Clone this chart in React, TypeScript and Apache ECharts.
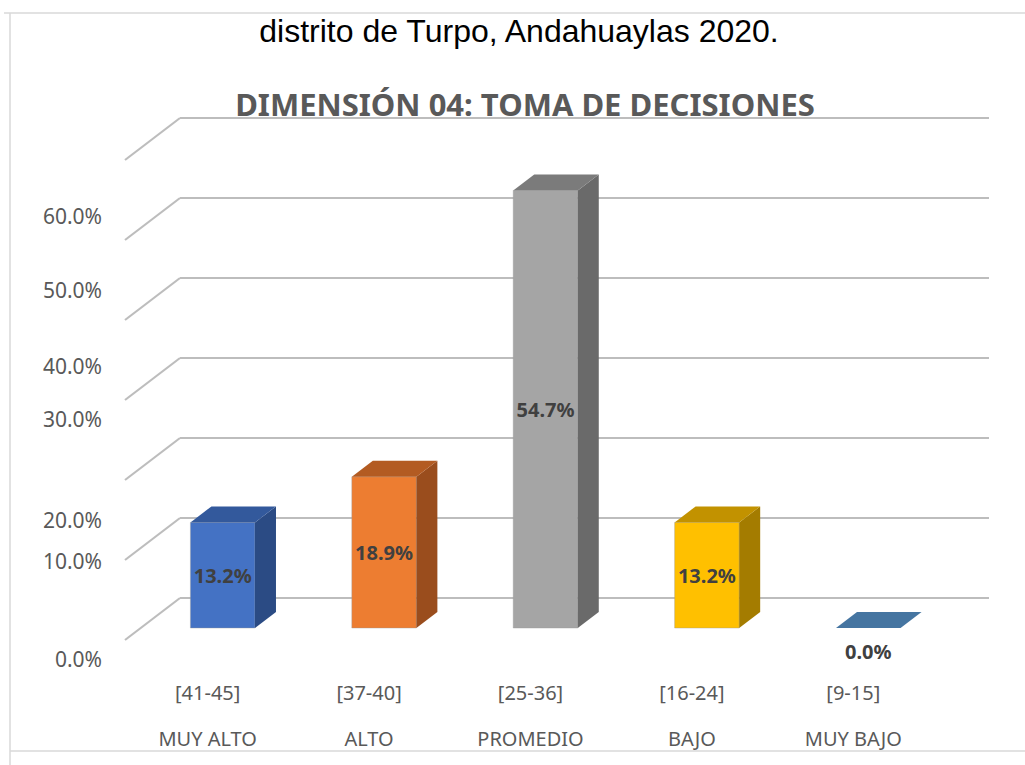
import React, { useEffect, useRef } from "react";
import * as echarts from "echarts";

const categories = ["[41-45]", "[37-40]", "[25-36]", "[16-24]", "[9-15]"];
const levels = ["MUY ALTO", "ALTO", "PROMEDIO", "BAJO", "MUY BAJO"];
const percentages = [13.2, 18.9, 54.7, 13.2, 0.0];
const gridValues = [0, 10, 20, 30, 40, 50, 60];
const yTickLabels = ["0.0%", "10.0%", "20.0%", "30.0%", "40.0%", "50.0%", "60.0%"];
const chartTitle = "DIMENSIÓN 04: TOMA DE DECISIONES";
const chartSubtitle = "distrito de Turpo, Andahuaylas 2020.";

const palette = [
  { front: "#4472C4", side: "#2B4B84", top: "#33599C" },
  { front: "#ED7D31", side: "#9A4D1D", top: "#B35B22" },
  { front: "#A5A5A5", side: "#6A6A6A", top: "#7B7B7B" },
  { front: "#FFC000", side: "#A47C00", top: "#C29200" },
  { front: "#4A78A6", side: "#2F557C", top: "#4575A1" },
];

// layout (pixels) of the misplaced Excel tick labels
const yLabelCenters = [659, 561, 520, 419, 366, 290, 216];

const DX = 21;
const DY = 16;
const FONT = "'Noto Sans', 'Open Sans', sans-serif";

export default function App() {
  const ref = useRef<HTMLDivElement>(null);

  useEffect(() => {
    if (!ref.current) return;
    const chart = echarts.init(ref.current, undefined, { renderer: "svg" });

    const gridSeries = {
      type: "custom",
      silent: true,
      z: 1,
      data: gridValues.map((v) => [0, v]),
      renderItem: (params: any, api: any) => {
        const cs = params.coordSys;
        const p = api.coord([0, api.value(1)]);
        const y = p[1];
        const x0 = cs.x - 17;
        const x1 = cs.x + 38;
        const x2 = cs.x + cs.width + 40;
        const style = { stroke: "#BDBDBD", lineWidth: 2.2, fill: "none" };
        return {
          type: "group",
          children: [
            { type: "line", shape: { x1: x0, y1: y + 12, x2: x1, y2: y - 30 }, style },
            { type: "line", shape: { x1: x1, y1: y - 30, x2: x2, y2: y - 30 }, style },
          ],
        };
      },
    };

    const barSeries = {
      type: "custom",
      z: 5,
      data: percentages.map((v, i) => [i, v]),
      renderItem: (params: any, api: any) => {
        const i = api.value(0);
        const v = api.value(1);
        const base = api.coord([i, 0]);
        const topP = api.coord([i, v]);
        const w = api.size([1, 0])[0] * 0.4;
        const xl = base[0] - w / 2;
        const xr = base[0] + w / 2;
        const yb = base[1];
        const yt = topP[1];
        const c = palette[i];
        const children: any[] = [];
        if (yb - yt > 0.5) {
          children.push({
            type: "rect",
            shape: { x: xl, y: yt, width: w, height: yb - yt },
            style: { fill: c.front, stroke: "#9a9a9a", lineWidth: 0.4 },
          });
          children.push({
            type: "polygon",
            shape: { points: [[xr, yt], [xr + DX, yt - DY], [xr + DX, yb - DY], [xr, yb]] },
            style: { fill: c.side },
          });
        }
        children.push({
          type: "polygon",
          shape: { points: [[xl, yt], [xl + DX, yt - DY], [xr + DX, yt - DY], [xr, yt]] },
          style: { fill: c.top },
        });
        const labelY = yb - yt > 0.5 ? (yt + yb) / 2 : yb + 23;
        children.push({
          type: "text",
          style: {
            text: v.toFixed(1) + "%",
            x: base[0],
            y: labelY,
            align: "center",
            verticalAlign: "middle",
            fill: "#404040",
            font: `bold 20px ${FONT}`,
          },
        });
        return { type: "group", children };
      },
    };

    const graphics: any[] = [
      { type: "line", shape: { x1: 4, y1: 13, x2: 1025, y2: 13 }, style: { stroke: "#D9D9D9", lineWidth: 1.5 } },
      { type: "line", shape: { x1: 10, y1: 13, x2: 10, y2: 765 }, style: { stroke: "#D9D9D9", lineWidth: 1.5 } },
      { type: "line", shape: { x1: 10, y1: 751, x2: 1025, y2: 751 }, style: { stroke: "#D9D9D9", lineWidth: 1.5 } },
      {
        type: "text",
        style: {
          text: chartSubtitle,
          x: 519,
          y: 31,
          align: "center",
          verticalAlign: "middle",
          fill: "#000000",
          font: "32px 'Liberation Sans', Arial, sans-serif",
        },
      },
      {
        type: "text",
        z: 10,
        style: {
          text: chartTitle,
          x: 525,
          y: 104,
          align: "center",
          verticalAlign: "middle",
          fill: "#595959",
          font: `bold 31px ${FONT}`,
        },
      },
      ...yTickLabels.map((t, k) => ({
        type: "text",
        style: {
          text: t,
          x: 102,
          y: yLabelCenters[k],
          align: "right",
          verticalAlign: "middle",
          fill: "#595959",
          font: `21px ${FONT}`,
        },
      })),
    ];

    chart.setOption({
      animation: false,
      backgroundColor: "#ffffff",
      grid: { left: 142, right: 76, top: 148, bottom: 137 },
      xAxis: {
        type: "category",
        data: categories,
        axisLine: { show: false },
        axisTick: { show: false },
        splitLine: { show: false },
        axisLabel: {
          formatter: (val: string, idx: number) => `${val}\n${levels[idx]}`,
          fontFamily: FONT,
          fontSize: 20,
          color: "#595959",
          lineHeight: 46,
          margin: 41,
          padding: [0, 30, 0, 0],
          interval: 0,
        },
      },
      yAxis: {
        type: "value",
        min: 0,
        max: 60,
        interval: 10,
        show: false,
      },
      graphic: graphics,
      series: [gridSeries, barSeries],
    });

    return () => chart.dispose();
  }, []);

  return (
    <div
      ref={ref}
      style={{ position: "fixed", left: 0, top: 0, width: 1025, height: 765 }}
    />
  );
}
